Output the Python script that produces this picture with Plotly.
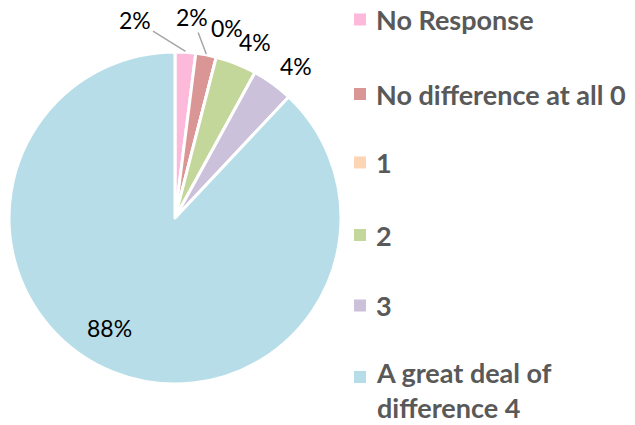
import math
import plotly.graph_objects as go

labels = ["No Response", "No difference at all 0", "1", "2", "3", "A great deal of<br>difference 4"]
values = [2, 2, 0, 4, 4, 88]
colors = ["#FDB9DA", "#D99694", "#FCD5B5", "#C4D79B", "#CCC1DA", "#B7DEE8"]

W, H = 635, 425
cx, cy, r = 175, 218, 166

fig = go.Figure()
fig.add_trace(go.Pie(
    labels=labels,
    values=values,
    sort=False,
    direction="clockwise",
    rotation=0,
    marker=dict(colors=colors, line=dict(color="white", width=3)),
    textinfo="none",
    domain=dict(x=[(cx - r) / W, (cx + r) / W], y=[(H - cy - r) / H, (H - cy + r) / H]),
    showlegend=False,
    automargin=False,
    hoverinfo="label+percent",
))


def px(x, y):
    return x / W, 1 - y / H


# data labels, placed from each slice's mid angle
total = float(sum(values))
label_font = dict(family="Lato", size=23, color="black")
# per-label placement style: 'out' outside, 'arrow' with leader line, 'in' inside
styles = ["arrow", "arrow", "out", "out", "out", "in"]
arrow_offsets = {0: (-50, -31), 1: (-14, -37)}
nudges = {2: (2, -3), 3: (6, 3), 4: (3, 4)}
annotations = []
cum = 0.0
for i, v in enumerate(values):
    mid = (cum + v / 2.0) / total * 2 * math.pi
    cum += v
    s, c = math.sin(mid), math.cos(mid)
    txt = "%d%%" % round(100 * v / total)
    st = styles[i]
    if st == "out":
        R0 = 184
        ax_, ay_ = cx + R0 * s, cy - R0 * c
        ndx, ndy = nudges.get(i, (0, 0))
        tx, ty = ax_ + 16 * s + ndx, ay_ - 9 * c + ndy
        X, Y = px(tx, ty)
        annotations.append(dict(text=txt, x=X, y=Y, xref="paper", yref="paper",
                                showarrow=False, font=label_font,
                                xanchor="center", yanchor="middle"))
    elif st == "arrow":
        ex, ey = cx + (r + 1) * s, cy - (r + 1) * c
        X, Y = px(ex, ey)
        dx, dy = arrow_offsets[i]
        annotations.append(dict(text=txt, x=X, y=Y, xref="paper", yref="paper",
                                showarrow=True, arrowhead=0, arrowwidth=1.5,
                                arrowcolor="#A6A6A6", ax=dx, ay=dy, standoff=0,
                                font=label_font))
    else:
        ang = mid + math.radians(9)
        R1 = 128
        X, Y = px(cx + R1 * math.sin(ang), cy - R1 * math.cos(ang))
        annotations.append(dict(text=txt, x=X, y=Y, xref="paper", yref="paper",
                                showarrow=False, font=label_font,
                                xanchor="center", yanchor="middle"))

# legend drawn at the right
leg_y = [19.5, 94, 162.5, 235, 305.5, 377]
shapes = []
for i, (lab, col) in enumerate(zip(labels, colors)):
    yc = leg_y[i]
    shapes.append(dict(type="rect", xref="paper", yref="paper",
                       x0=354 / W, x1=366 / W, y0=1 - (yc - 6) / H, y1=1 - (yc + 6) / H,
                       fillcolor=col, line=dict(width=0)))
    multiline = "<br>" in lab
    annotations.append(dict(
        text="<b>%s</b>" % lab, xref="paper", yref="paper",
        x=374 / W, y=1 - (yc - (23 if multiline else 0)) / H,
        xanchor="left", yanchor="top" if multiline else "middle",
        align="left", showarrow=False,
        font=dict(family="Lato", size=27, color="#595959"),
    ))

fig.update_layout(
    width=W, height=H,
    margin=dict(l=0, r=0, t=0, b=0),
    paper_bgcolor="white",
    plot_bgcolor="white",
    shapes=shapes,
    annotations=annotations,
)
fig.write_html("out.html")
